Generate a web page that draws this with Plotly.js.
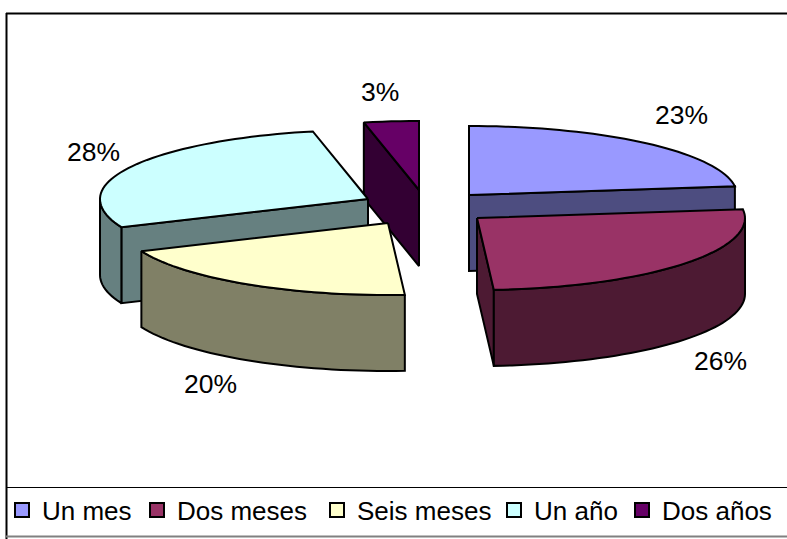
<!DOCTYPE html>
<html>
<head>
<meta charset="utf-8">
<script src="https://cdn.plot.ly/plotly-3.0.1.min.js"></script>
<style>html,body{margin:0;padding:0;background:#fff}#chart{width:787px;height:539px}</style>
</head>
<body>
<div id="chart"></div>
<script>
// Data
const categories = ['Un mes', 'Dos meses', 'Seis meses', 'Un año', 'Dos años'];
const shares = [23, 26, 19.6, 28.1, 3.3];
const percentLabels = ['23%', '26%', '20%', '28%', '3%'];

// Styles
const topColors = ['#9999FF', '#993366', '#FFFFCC', '#CCFFFF', '#660066'];
const sideColors = ['#4D4D80', '#4D1A33', '#808066', '#668080', '#330033'];

// 3-D projection of the exploded pie
const W = 787, H = 539;
const RX = 268, RY_BACK = 69, RY_FRONT = 72, DEPTH = 76;
const apexX = [469, 477, 388, 368, 419];
const apexY = [195, 218, 223, 199, 190];
const labelX = [681, 720, 210, 93, 380];
const labelY = [115, 361, 384, 152, 92];
const legendMarkerLeft = [2, 137, 317, 494, 622];
const drawOrder = [4, 3, 2, 0, 1];

const total = shares.reduce((a, b) => a + b, 0);
const rad = d => d * Math.PI / 180;
let cum = 0;
const slices = shares.map(v => {
  const s = cum / total * 360; cum += v;
  return {start: s, end: cum / total * 360};
});
const rim = (i, a, drop) => {
  const c = Math.cos(rad(a));
  return [apexX[i] + RX * Math.sin(rad(a)), apexY[i] - (c > 0 ? RY_BACK : RY_FRONT) * c + (drop || 0)];
};
const arc = (i, a0, a1, drop) => {
  const pts = [], n = Math.max(2, Math.ceil((a1 - a0) / 2));
  for (let k = 0; k <= n; k++) pts.push(rim(i, a0 + (a1 - a0) * k / n, drop));
  return pts;
};
const poly = (pts, color) => ({
  type: 'scatter', mode: 'lines', x: pts.map(p => p[0]), y: pts.map(p => p[1]),
  fill: 'toself', fillcolor: color, line: {color: '#000', width: 2, simplify: false},
  hoverinfo: 'skip', showlegend: false
});
const traces = [];
drawOrder.forEach(i => {
  const {start, end} = slices[i];
  const apex = [apexX[i], apexY[i]];
  const down = (p) => [p[0], p[1] + DEPTH];
  // radial cut faces that look towards the viewer
  if (i === 0 || i === 1) { // end face
    const e = rim(i, end);
    traces.push(poly([apex, e, down(e), down(apex), apex], sideColors[i]));
  }
  if (i === 3 || i === 4) { // start face
    const e = rim(i, start);
    traces.push(poly([apex, e, down(e), down(apex), apex], sideColors[i]));
  }
  // outer wall: front half of the rim only
  const a0 = Math.max(start, 90), a1 = Math.min(end, 270);
  if (a1 > a0) {
    const t = arc(i, a0, a1);
    const b = arc(i, a0, a1, DEPTH).reverse();
    traces.push(poly(t.concat(b, [t[0]]), sideColors[i]));
  }
  // top face
  traces.push(poly([apex].concat(arc(i, start, end), [apex]), topColors[i]));
});
// legend entries
categories.forEach((c, i) => {
  traces.push({
    type: 'scatter', mode: 'markers', x: [null], y: [null], name: c,
    marker: {symbol: 'square', size: 14, color: topColors[i], line: {color: '#000', width: 2}},
    showlegend: true, legend: i === 0 ? 'legend' : 'legend' + (i + 1), hoverinfo: 'skip'
  });
});

const labelFont = {family: '"Liberation Sans", Arial, sans-serif', size: 26.5, color: '#000'};
const legendFont = {family: '"Liberation Sans", Arial, sans-serif', size: 26, color: '#000'};
const layout = {
  width: W, height: H,
  margin: {l: 0, r: 0, t: 0, b: 0, autoexpand: false},
  paper_bgcolor: '#fff', plot_bgcolor: '#fff', font: labelFont,
  xaxis: {range: [0, W], visible: false, fixedrange: true},
  yaxis: {range: [H, 0], visible: false, fixedrange: true},
  annotations: percentLabels.map((t, i) => ({
    text: t, x: labelX[i], y: labelY[i], xref: 'x', yref: 'y',
    showarrow: false, font: labelFont
  })),
  shapes: [
    {type: 'line', xref: 'x', yref: 'y', x0: 6.5, x1: 6.5, y0: 13, y1: H, line: {color: '#000', width: 2}},
    {type: 'line', xref: 'x', yref: 'y', x0: 6, x1: W, y0: 13.5, y1: 13.5, line: {color: '#000', width: 2}},
    {type: 'line', xref: 'x', yref: 'y', x0: 6, x1: W, y0: 487.5, y1: 487.5, line: {color: '#000', width: 1}},
    {type: 'line', xref: 'x', yref: 'y', x0: 6, x1: W, y0: 536.5, y1: 536.5, line: {color: '#808080', width: 2}}
  ]
};
categories.forEach((c, i) => {
  layout[i === 0 ? 'legend' : 'legend' + (i + 1)] = {
    x: legendMarkerLeft[i] / W, y: 1 - 510 / H, xanchor: 'left', yanchor: 'middle',
    bgcolor: 'rgba(0,0,0,0)', borderwidth: 0, font: legendFont, orientation: 'h'
  };
});
Plotly.newPlot('chart', traces, layout, {displayModeBar: false, staticPlot: true});
</script>
</body>
</html>
